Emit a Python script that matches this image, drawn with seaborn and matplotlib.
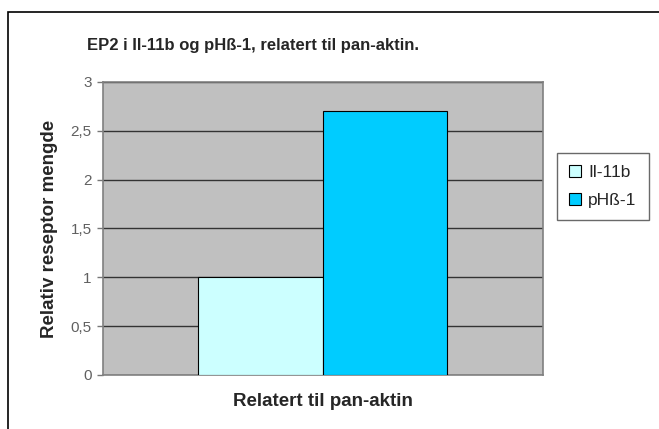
import pandas as pd
import matplotlib.pyplot as plt
import matplotlib.ticker as mticker
import seaborn as sns
from matplotlib.patches import Rectangle

# Data
groups = ["Relatert til pan-aktin", "Relatert til pan-aktin"]
series = ["Il-11b", "pHß-1"]
values = [1.0, 2.7]
colors = ["#CCFFFF", "#00CCFF"]

df = pd.DataFrame({"group": groups, "series": series, "value": values})

sns.set_style("white")
plt.rcParams["font.family"] = ["Liberation Sans", "DejaVu Sans"]

fig = plt.figure(figsize=(6.59, 4.29), dpi=100)
ax = fig.add_axes([0.156, 0.126, 0.668, 0.683])
ax.set_facecolor("#C0C0C0")

sns.barplot(data=df, x="group", y="value", hue="series", palette=colors,
            saturation=1, width=0.566, gap=0, edgecolor="black", linewidth=0.8,
            ax=ax, legend=True, zorder=3)

ax.set_ylim(0, 3)
ax.set_xlim(-0.5, 0.5)
ax.yaxis.set_major_locator(mticker.MultipleLocator(0.5))
ax.yaxis.set_major_formatter(mticker.FuncFormatter(
    lambda v, p: ("%g" % v).replace(".", ",")))
ax.grid(axis="y", color="#333333", linewidth=1.0, zorder=1)
ax.set_axisbelow(True)
ax.set_xticks([])
ax.tick_params(axis="y", labelsize=11, labelcolor="#606060", length=4,
               color="#777777", left=True, width=1, pad=4)
for s in ax.spines.values():
    s.set_color("#808080")
    s.set_linewidth(1.2)

ax.set_xlabel("Relatert til pan-aktin", fontsize=13.5, fontweight="bold", labelpad=13)
ax.set_ylabel("Relativ reseptor mengde", fontsize=13.5, fontweight="bold", labelpad=9)
fig.text(0.384, 0.895, "EP2 i Il-11b og pHß-1, relatert til pan-aktin.",
         fontsize=12, fontweight="bold", ha="center", va="center")

leg = ax.legend(loc="upper left", bbox_to_anchor=(1.032, 0.758), frameon=True,
                fancybox=False, edgecolor="#444444", fontsize=12.5,
                handlelength=0.7, handleheight=0.7, handletextpad=0.4,
                borderpad=0.7, labelspacing=0.75, borderaxespad=0)
leg.get_frame().set_linewidth(1.0)

# outer chart frame
fig.patches.append(Rectangle((0.012, -0.01), 1.0, 0.982, transform=fig.transFigure,
                             fill=False, edgecolor="black", linewidth=1.2))

fig.savefig("out.png", dpi=100)
